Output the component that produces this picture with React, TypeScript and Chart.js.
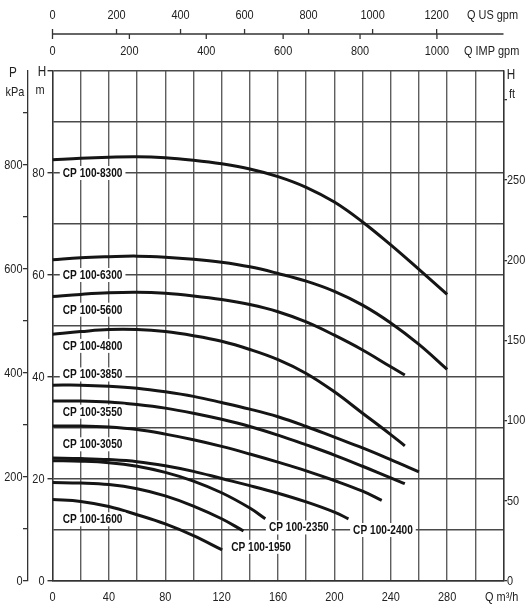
import React, { useEffect, useRef } from 'react';
import { Chart, registerables } from 'chart.js';

Chart.register(...registerables);

const FONT = "'Liberation Sans', Arial, sans-serif";
const NARROW = 0.81; // no narrow face installed, so squeeze the sans horizontally

// axes (tick values)
const flowTicks = [0, 20, 40, 60, 80, 100, 120, 140, 160, 180, 200, 220, 240, 260, 280, 300, 320];
const flowLabels = [0, 40, 80, 120, 160, 200, 240, 280];
const headTicks = [0, 10, 20, 30, 40, 50, 60, 70, 80, 90, 100];
const headLabels = [0, 20, 40, 60, 80];
const kpaTicks = [0, 100, 200, 300, 400, 500, 600, 700, 800, 900];
const kpaLabels = [0, 200, 400, 600, 800];
const ftTicks = [0, 50, 100, 150, 200, 250, 300];
const ftLabels = [0, 50, 100, 150, 200, 250];
const usGpmTicks = [0, 200, 400, 600, 800, 1000, 1200];
const impGpmTicks = [0, 200, 400, 600, 800, 1000];
const US_GPM_PER_M3H = 4.4029;
const IMP_GPM_PER_M3H = 3.6662;

// pump curves: Q (m3/h) -> H (m)
const models = [
  'CP 100-8300', 'CP 100-6300', 'CP 100-5600', 'CP 100-4800', 'CP 100-3850', 'CP 100-3550',
  'CP 100-3050', 'CP 100-2400', 'CP 100-2350', 'CP 100-1950', 'CP 100-1600',
];
const q8300 = [0, 20, 40, 60, 80, 100, 120, 140, 160, 180, 200, 220, 240, 260, 280];
const h8300 = [82.6, 82.9, 83.1, 83.2, 83.0, 82.5, 81.8, 80.8, 79.3, 77.2, 74.3, 70.4, 65.9, 61.1, 56.2];
const q6300 = [0, 20, 40, 60, 80, 100, 120, 140, 160, 180, 200, 220, 240, 260, 280];
const h6300 = [63.0, 63.4, 63.6, 63.7, 63.5, 63.1, 62.5, 61.6, 60.3, 58.8, 56.8, 54.1, 50.6, 46.4, 41.5];
const q5600 = [0, 20, 40, 60, 80, 100, 120, 140, 160, 180, 200, 220, 240, 250];
const h5600 = [55.8, 56.2, 56.5, 56.6, 56.4, 55.9, 55.2, 54.2, 52.8, 50.8, 48.2, 45.3, 42.0, 40.4];
const q4800 = [0, 20, 40, 60, 80, 100, 120, 140, 160, 180, 200, 220, 240, 250];
const h4800 = [48.4, 48.9, 49.3, 49.3, 48.9, 48.1, 47.0, 45.4, 43.4, 40.7, 37.1, 32.9, 28.7, 26.5];
const q3850 = [0, 20, 40, 60, 80, 100, 120, 140, 160, 180, 200, 220, 240, 260];
const h3850 = [38.4, 38.4, 38.2, 37.8, 37.1, 36.2, 35.0, 33.7, 32.2, 30.3, 28.2, 26.1, 23.8, 21.4];
const q3550 = [0, 20, 40, 60, 80, 100, 120, 140, 160, 180, 200, 220, 240, 250];
const h3550 = [35.3, 35.3, 35.1, 34.6, 33.9, 32.9, 31.7, 30.3, 28.6, 26.7, 24.7, 22.5, 20.2, 19.1];
const q3050 = [0, 20, 40, 60, 80, 100, 120, 140, 160, 180, 200, 220, 233.6];
const h3050 = [30.4, 30.4, 30.2, 29.7, 28.8, 27.7, 26.4, 24.9, 23.3, 21.6, 19.7, 17.6, 15.8];
const q2400 = [0, 20, 40, 60, 80, 100, 120, 140, 160, 180, 200, 210];
const h2400 = [24.1, 24.0, 23.8, 23.4, 22.6, 21.5, 20.1, 18.7, 17.2, 15.5, 13.5, 12.2];
const q2350 = [0, 20, 40, 60, 80, 100, 120, 140, 151];
const h2350 = [23.6, 23.5, 23.2, 22.5, 21.3, 19.6, 17.3, 14.3, 12.2];
const q1950 = [0, 20, 40, 60, 80, 100, 120, 135.5];
const h1950 = [19.3, 19.2, 18.9, 18.1, 16.7, 14.7, 12.2, 9.8];
const q1600 = [0, 20, 40, 60, 80, 100, 120.4];
const h1600 = [16.0, 15.6, 14.6, 13.0, 11.2, 8.9, 6.1];

const curveQ = [q8300, q6300, q5600, q4800, q3850, q3550, q3050, q2400, q2350, q1950, q1600];
const curveH = [h8300, h6300, h5600, h4800, h3850, h3550, h3050, h2400, h2350, h1950, h1600];

// where each curve name sits (left edge Q, centre H)
const labelQ = [7.3, 7.3, 7.3, 7.3, 7.3, 7.3, 7.3, 213.3, 153.6, 126.8, 7.3];
const labelH = [80.0, 60.0, 53.2, 46.1, 40.5, 33.2, 26.8, 10.0, 10.5, 6.7, 12.1];

function narrowText(ctx: CanvasRenderingContext2D, text: string, x: number, y: number, align: CanvasTextAlign) {
  ctx.save();
  ctx.translate(x, y);
  ctx.scale(NARROW, 1);
  ctx.textAlign = align;
  ctx.textBaseline = 'middle';
  ctx.fillText(text, 0, 0);
  ctx.restore();
}

const overlay = {
  id: 'overlay',
  afterDatasetsDraw(chart: any) {
    const ctx: CanvasRenderingContext2D = chart.ctx;
    const { x, y } = chart.scales;
    ctx.save();
    ctx.font = `bold 12.5px ${FONT}`;
    models.forEach((name, i) => {
      const px = x.getPixelForValue(labelQ[i]);
      const py = y.getPixelForValue(labelH[i]);
      const w = ctx.measureText(name).width * NARROW;
      ctx.fillStyle = '#fff';
      ctx.fillRect(px - 3, py - 7, w + 6, 14);
      ctx.fillStyle = '#111';
      narrowText(ctx, name, px, py + 0.5, 'left');
    });
    ctx.restore();
  },
  afterDraw(chart: any) {
    const ctx: CanvasRenderingContext2D = chart.ctx;
    const { chartArea } = chart;
    const { x, y, yP, yFt } = chart.scales;
    ctx.save();
    ctx.fillStyle = '#222';
    ctx.font = `13.5px ${FONT}`;

    // tick labels of the four chart axes
    flowLabels.forEach((v) => narrowText(ctx, String(v), x.getPixelForValue(v), 597, 'center'));
    headLabels.forEach((v) => narrowText(ctx, String(v), y.right - 8, y.getPixelForValue(v), 'right'));
    kpaLabels.forEach((v) => narrowText(ctx, String(v), yP.right - 5, yP.getPixelForValue(v), 'right'));
    ftLabels.forEach((v) => narrowText(ctx, String(v), yFt.left + 3.5, yFt.getPixelForValue(v), 'left'));

    // gpm axes above the plot
    const lineY = 34;
    ctx.strokeStyle = '#333';
    ctx.lineWidth = 1.3;
    ctx.beginPath();
    ctx.moveTo(x.getPixelForValue(0), lineY);
    ctx.lineTo(chartArea.right, lineY);
    ctx.stroke();
    usGpmTicks.forEach((v) => {
      const px = x.getPixelForValue(v / US_GPM_PER_M3H);
      ctx.beginPath();
      ctx.moveTo(px, lineY);
      ctx.lineTo(px, lineY - 5);
      ctx.stroke();
      narrowText(ctx, String(v), px, 15, 'center');
    });
    impGpmTicks.forEach((v) => {
      const px = x.getPixelForValue(v / IMP_GPM_PER_M3H);
      ctx.beginPath();
      ctx.moveTo(px, lineY);
      ctx.lineTo(px, lineY + 5);
      ctx.stroke();
      narrowText(ctx, String(v), px, 51, 'center');
    });

    ctx.font = `13.5px ${FONT}`;
    narrowText(ctx, 'Q US gpm', 467, 15, 'left');
    narrowText(ctx, 'Q IMP gpm', 464, 51, 'left');
    narrowText(ctx, 'Q m³/h', 485, 597, 'left');
    narrowText(ctx, 'kPa', 15, 92, 'center');
    narrowText(ctx, 'm', 40, 90, 'center');
    narrowText(ctx, 'ft', 512, 94, 'center');
    ctx.font = `14.5px ${FONT}`;
    narrowText(ctx, 'P', 13, 73, 'center');
    narrowText(ctx, 'H', 42, 72, 'center');
    narrowText(ctx, 'H', 511, 75, 'center');
    ctx.restore();
  },
};

const setTicks = (values: number[]) => (scale: any) => {
  scale.ticks = values.map((value) => ({ value }));
};

export default function App() {
  const canvasRef = useRef<HTMLCanvasElement>(null);

  useEffect(() => {
    if (!canvasRef.current) return;
    Chart.defaults.font.family = FONT;

    const chart = new Chart(canvasRef.current, {
      type: 'line',
      data: {
        datasets: models.map((name, i) => ({
          label: name,
          data: curveQ[i].map((q, j) => ({ x: q, y: curveH[i][j] })),
          borderColor: '#151515',
          borderWidth: 3,
          pointRadius: 0,
          tension: 0.4,
          fill: false,
          yAxisID: 'y',
        })),
      },
      options: {
        animation: false,
        responsive: true,
        maintainAspectRatio: false,
        layout: { padding: { top: 71, left: 0, right: 0, bottom: 0 } },
        plugins: { legend: { display: false }, tooltip: { enabled: false } },
        scales: {
          x: {
            type: 'linear',
            min: 0,
            max: 320,
            afterBuildTicks: setTicks(flowTicks),
            afterFit: (s: any) => { s.height = 30; },
            ticks: { display: false },
            grid: { color: '#5e5e5e', lineWidth: 1.4, drawTicks: false },
            border: { color: '#333', width: 1.4 },
          },
          y: {
            type: 'linear',
            position: 'left',
            weight: 0,
            min: 0,
            max: 100,
            afterBuildTicks: setTicks(headTicks),
            afterFit: (s: any) => { s.width = 25; },
            ticks: { display: false },
            grid: {
              color: '#4a4a4a',
              lineWidth: 1.4,
              tickLength: 5,
              tickColor: (c: any) => (c.tick && c.tick.value % 20 === 0 ? '#333' : 'rgba(0,0,0,0)'),
            },
            border: { color: '#333', width: 1.4 },
          },
          yP: {
            type: 'linear',
            position: 'left',
            weight: 1,
            min: 0,
            max: 981,
            afterBuildTicks: setTicks(kpaTicks),
            afterFit: (s: any) => { s.width = 27.5; },
            ticks: { display: false },
            grid: { drawOnChartArea: false, tickLength: 4.5, tickColor: '#333', lineWidth: 1.3 },
            border: { color: '#333', width: 1.3 },
          },
          yFt: {
            type: 'linear',
            position: 'right',
            min: 0,
            max: 318,
            afterBuildTicks: setTicks(ftTicks),
            afterFit: (s: any) => { s.width = 27.5; },
            ticks: { display: false },
            grid: { drawOnChartArea: false, tickLength: 3.5, tickColor: '#333', lineWidth: 1.3 },
            border: { color: '#333', width: 1.4 },
          },
        },
      },
      plugins: [overlay],
    });

    return () => chart.destroy();
  }, []);

  return (
    <div style={{ position: 'fixed', left: 0, top: 0, width: 531, height: 611, background: '#fff' }}>
      <canvas ref={canvasRef} />
    </div>
  );
}
